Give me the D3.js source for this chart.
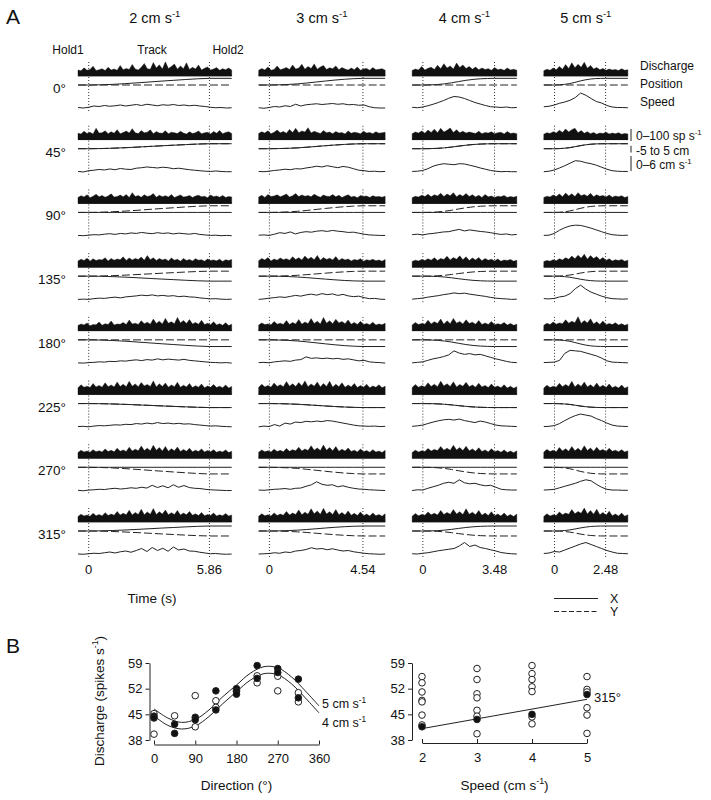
<!DOCTYPE html>
<html><head><meta charset="utf-8">
<script src="https://cdn.jsdelivr.net/npm/d3@7"></script>
<style>
body{margin:0;background:#fff;}
svg text{font-family:"Liberation Sans",Arial,Helvetica,sans-serif;fill:#111;}
</style></head><body>
<svg id="chart" width="711" height="800"></svg>
<script>
// ---------------- DATA ----------------
const speeds = [2, 3, 4, 5];                       // cm/s, columns
const trackDur = [5.86, 4.54, 3.48, 2.48];         // s
const timeTickLabels = ["5.86", "4.54", "3.48", "2.48"];
const directions = [0, 45, 90, 135, 180, 225, 270, 315];

// end position of the movement (cm) for each direction
const posEndX = [10, 7.5, 0, -7.5, -10, -6, 0, 7.5];
const posEndY = [0, 7.5, 10, 7.5, 0, -6, -10, -7.5];
// fraction of movement completed at 0,10,...,100 % of the track period (one profile per column)
const posProfile = [
  [0, 0.03, 0.10, 0.20, 0.32, 0.45, 0.58, 0.70, 0.82, 0.93, 1],
  [0, 0.03, 0.08, 0.17, 0.30, 0.45, 0.60, 0.74, 0.86, 0.95, 1],
  [0, 0.02, 0.07, 0.17, 0.33, 0.52, 0.70, 0.84, 0.93, 0.98, 1],
  [0, 0.03, 0.10, 0.22, 0.40, 0.60, 0.77, 0.89, 0.96, 0.99, 1]
];

// discharge histograms (spikes/s), rows = directions, for each speed column
const discharge2 = [
  [50,44,68,47,55,82,46,52,61,45,73,49,58,47,88,52,63,55,96,58,51,72,104,60,57,112,66,93,58,118,62,79,99,57,84,61,110,55,72,58,92,50,64,76,49,58,70,47,61,52,66,49],
  [54,48,70,52,62,47,96,55,58,74,50,66,53,84,49,60,72,55,92,57,51,76,58,63,82,50,68,56,54,75,49,62,58,51,70,55,47,66,52,59,73,50,57,62,48,69,54,77,50,60,66,52],
  [50,64,54,72,48,60,76,55,66,52,62,80,53,58,70,56,74,50,90,57,66,52,72,58,63,82,51,68,56,65,53,74,49,60,71,54,58,66,50,62,68,55,60,47,70,56,62,52,66,50,58,54],
  [52,66,56,74,50,70,55,64,60,78,52,72,58,68,62,86,56,76,60,72,64,84,58,96,62,78,55,72,60,68,52,76,58,66,50,72,56,64,52,70,58,62,50,68,56,60,53,66,48,62,55,64],
  [44,58,48,66,42,52,50,74,46,60,52,82,49,57,55,70,52,90,58,64,54,84,60,72,56,98,62,80,58,104,64,76,60,112,66,86,62,94,58,70,55,88,52,64,50,76,48,60,46,68,44,56],
  [56,82,60,70,58,92,64,76,62,98,66,80,64,104,68,86,66,110,70,88,66,100,72,84,68,114,64,90,68,96,62,80,66,102,60,78,64,92,58,74,62,88,56,72,60,84,58,70,56,80,54,68],
  [48,66,52,60,50,72,54,62,52,78,56,66,54,84,58,70,56,92,60,76,62,102,64,84,62,108,66,90,60,98,58,80,62,94,56,74,58,84,54,68,56,78,52,64,54,72,50,60,52,70,48,58],
  [46,64,50,58,48,72,52,62,50,78,54,66,56,88,58,72,60,98,58,80,62,106,60,84,64,112,62,86,66,100,60,78,62,96,58,74,60,88,56,68,54,80,52,62,54,74,50,60,52,70,50,58]
];
const discharge3 = [
  [47,62,50,76,48,55,83,52,60,71,54,92,58,66,97,56,80,62,101,57,74,88,55,69,61,84,52,70,58,49,66,53,74,48,58,63,47,70,52,56,61,48],
  [52,66,55,74,50,62,80,57,68,54,86,60,95,58,72,64,100,56,70,61,52,76,58,64,50,68,55,60,48,73,53,62,57,49,71,55,60,50,66,54,58,62],
  [54,68,50,74,58,62,72,55,66,78,53,64,82,57,70,60,66,56,76,62,52,70,60,58,74,55,68,50,62,72,54,60,48,66,57,62,50,64,55,58,52,60],
  [54,72,60,80,52,68,58,76,62,70,58,86,64,78,60,92,66,82,62,98,58,80,64,74,60,88,55,72,60,68,52,64,58,70,50,62,56,66,53,60,50,64],
  [48,66,52,58,50,78,56,64,54,86,52,70,58,94,56,74,60,102,62,80,58,112,64,84,60,96,66,78,60,90,56,70,54,80,52,62,50,72,48,58,50,64],
  [60,86,64,76,62,96,68,82,66,108,70,90,68,100,72,114,66,88,70,104,64,92,68,110,62,86,66,98,60,80,64,92,58,76,62,86,56,72,60,82,56,70],
  [50,70,54,62,52,76,56,66,54,82,58,72,62,92,60,78,64,104,68,86,64,110,66,90,62,98,58,76,60,86,56,68,52,78,54,64,50,72,52,60,48,66],
  [48,68,52,60,50,76,54,66,56,88,58,74,62,100,60,82,64,110,68,92,64,114,66,86,62,104,60,80,58,92,56,72,54,84,52,66,50,76,52,62,48,68]
];
const discharge4 = [
  [46,58,50,80,49,64,72,55,90,60,102,66,84,58,108,70,92,62,80,57,74,52,66,55,61,48,70,52,58,47,66,50,56,48],
  [50,64,56,72,54,80,60,88,58,95,64,78,98,60,82,57,70,55,64,58,52,70,49,60,55,66,50,58,62,48,68,52,56,50],
  [48,60,53,68,57,76,55,72,62,84,58,78,64,90,56,74,60,82,58,72,54,68,50,74,55,62,49,60,56,66,50,58,52,60],
  [48,58,52,64,55,70,58,78,56,72,64,90,60,80,66,94,62,86,56,76,60,80,54,72,58,66,52,68,50,60,55,64,50,58],
  [48,70,52,62,56,88,58,76,62,98,56,84,60,104,64,78,58,92,62,72,56,86,52,66,54,78,50,60,52,70,48,62,46,56],
  [58,84,62,74,64,98,68,86,66,112,72,90,68,106,64,84,70,102,66,80,62,94,64,76,58,88,60,72,56,82,54,70,52,66],
  [48,68,52,62,56,82,60,74,64,98,68,84,66,108,70,90,64,100,62,78,58,88,56,70,52,80,54,64,50,70,48,60,46,62],
  [48,70,52,62,56,84,60,72,58,96,62,80,64,104,66,86,62,110,64,82,60,96,56,74,54,86,52,66,50,74,48,62,46,66]
];
const discharge5 = [
  [44,56,48,66,52,80,57,95,62,110,68,98,72,115,64,88,58,70,52,62,47,58,50,54,46,60,48,52],
  [46,58,52,66,56,78,60,90,64,84,96,58,76,54,66,50,60,46,56,52,62,47,55,50,58,46,52,48],
  [50,60,54,70,58,78,56,86,62,80,58,90,64,74,60,84,56,72,60,66,54,70,52,62,56,64,50,58],
  [46,56,50,62,54,70,60,78,66,92,70,100,74,108,66,96,72,88,62,80,56,70,52,62,55,64,50,58],
  [46,64,52,74,56,66,60,92,64,80,68,118,62,86,66,100,58,76,54,82,50,62,52,68,48,60,46,56],
  [54,78,58,70,62,94,66,84,68,110,64,88,68,104,64,82,60,96,62,78,58,88,56,70,54,80,52,66],
  [52,74,56,66,54,90,60,80,58,98,62,84,60,104,64,86,58,92,62,74,56,84,58,68,54,72,52,62],
  [46,68,50,60,54,84,60,74,64,104,68,88,72,116,66,96,64,106,60,80,56,90,52,66,50,74,48,60]
];
const dischargeByCol = [discharge2, discharge3, discharge4, discharge5];

// hand speed traces (cm/s), evenly sampled over each panel
const speed2 = [
  [0.6,0.4,0.7,1.2,1.0,1.4,1.1,1.3,1.6,1.2,1.5,1.8,1.4,1.9,1.6,1.3,1.7,1.5,1.8,1.4,1.6,1.3,1.5,1.2,1.0,0.7,0.5,0.6,0.4,0.5],
  [0.5,0.3,0.8,1.0,1.3,1.1,1.5,1.2,1.7,1.4,1.3,1.8,2.0,2.3,2.1,1.9,2.2,2.0,1.6,1.8,1.5,1.2,1.0,0.8,0.6,0.5,0.7,0.5,0.4,0.4],
  [0.4,0.3,0.5,0.7,0.6,0.9,1.1,0.8,1.2,1.0,1.4,1.2,1.6,1.3,1.1,1.5,1.2,1.4,1.0,1.3,1.1,0.9,1.2,0.8,0.6,0.4,0.5,0.3,0.4,0.3],
  [0.3,0.4,0.3,0.6,0.8,0.7,1.0,1.2,0.9,1.3,1.5,1.7,2.0,1.8,2.1,1.7,1.9,1.6,1.8,1.4,1.6,1.3,1.2,0.9,0.7,0.5,0.6,0.4,0.3,0.4],
  [0.4,0.3,0.5,0.6,0.8,0.7,1.0,0.9,1.2,1.1,1.4,1.6,1.3,1.7,1.5,2.0,1.6,1.9,1.7,1.5,1.8,1.4,1.2,1.0,0.8,0.6,0.5,0.4,0.5,0.3],
  [0.4,0.5,0.3,0.6,0.8,0.7,0.9,1.1,1.0,1.3,1.2,1.6,1.4,1.8,1.5,2.0,1.6,1.8,1.5,1.7,1.4,1.5,1.2,1.0,0.8,0.6,0.7,0.5,0.4,0.3],
  [0.4,0.2,0.5,0.6,0.8,0.7,1.0,1.2,0.9,1.1,1.4,1.2,1.6,1.3,2.4,1.5,2.2,1.4,2.6,1.6,2.3,1.5,1.2,1.1,0.8,0.6,0.5,0.4,0.3,0.3],
  [0.4,0.3,0.5,0.7,0.6,0.9,1.2,0.8,1.3,1.6,1.1,1.8,2.6,1.4,3.0,1.8,2.7,1.5,3.2,2.0,2.4,1.6,1.5,1.1,0.8,0.5,0.6,0.4,0.3,0.4]
];
const speed3 = [
  [0.5,0.3,0.6,1.0,0.8,1.3,1.0,1.9,1.2,1.7,1.9,2.1,1.8,2.0,2.2,1.9,2.1,1.7,1.8,1.5,1.6,0.9,0.5,0.4,0.4],
  [0.5,0.4,0.6,0.9,1.1,1.4,1.2,1.6,1.5,1.9,2.2,2.6,2.3,2.8,2.4,2.0,2.5,2.2,1.6,1.0,0.8,0.5,0.6,0.4,0.5],
  [0.5,0.6,0.4,0.9,1.5,1.2,1.8,1.0,1.6,1.9,1.7,2.1,2.3,2.0,2.4,2.1,1.9,1.6,1.7,1.3,0.9,0.6,0.5,0.4,0.4],
  [0.3,0.5,0.8,1.0,1.3,1.1,1.5,1.9,1.6,2.1,2.4,2.0,2.6,2.2,2.5,1.9,2.3,1.7,1.4,1.6,1.0,0.6,0.7,0.4,0.3],
  [0.5,0.6,0.4,0.8,1.0,1.2,1.0,1.5,1.7,2.8,2.2,2.4,2.1,2.3,2.0,2.2,1.8,2.0,1.6,1.2,1.4,0.8,0.6,0.5,0.3],
  [0.3,0.6,0.4,1.2,0.6,1.8,1.4,2.2,2.0,2.5,2.3,2.6,2.4,2.8,2.6,2.2,1.8,1.4,1.0,0.7,0.6,0.5,0.6,0.4,0.5],
  [0.5,0.4,0.6,0.8,0.9,1.1,0.8,1.2,1.3,2.0,2.6,3.8,2.8,2.4,2.6,1.8,2.2,1.6,1.2,0.9,0.8,0.6,0.5,0.4,0.3],
  [0.4,0.5,0.6,0.9,0.7,1.2,1.0,1.6,1.8,2.2,2.9,2.4,2.6,2.1,2.5,2.0,1.6,1.8,1.3,1.0,0.7,0.5,0.4,0.3,0.4]
];
const speed4 = [
  [0.7,0.5,0.8,1.3,1.9,2.6,3.4,4.3,5.0,4.8,4.2,3.4,2.6,2.0,1.4,0.9,0.8,0.6,0.8,0.5,0.6],
  [0.5,0.6,0.9,1.6,2.6,3.2,3.6,3.4,3.2,3.6,3.5,3.0,2.5,1.9,1.4,0.9,0.6,0.4,0.5,0.4,0.4],
  [0.7,0.9,0.6,1.0,1.2,1.5,1.8,1.9,2.4,2.8,2.2,2.6,2.3,2.0,1.8,1.5,1.1,0.8,1.0,0.6,0.8],
  [0.4,0.6,0.8,1.2,1.5,1.8,2.2,2.5,2.9,2.6,2.8,2.4,2.1,1.8,1.5,1.1,0.8,0.6,0.5,0.3,0.4],
  [0.4,0.6,0.8,1.4,2.0,2.4,2.9,3.6,5.2,4.3,3.8,4.1,3.6,3.8,3.2,2.6,2.0,1.5,1.0,0.6,0.5],
  [0.5,0.7,1.0,1.6,2.2,2.7,3.1,3.3,3.0,3.4,2.8,2.4,2.0,2.6,2.2,1.6,1.0,0.7,0.6,0.5,0.4],
  [0.3,0.6,0.5,1.2,1.8,2.4,3.2,3.6,3.2,4.6,3.4,3.0,3.2,2.6,2.2,2.4,1.6,0.8,0.6,0.5,0.5],
  [0.5,0.4,0.7,0.9,1.3,1.7,2.0,2.3,2.6,3.6,5.0,3.4,4.0,3.0,2.6,2.1,1.6,1.0,0.7,0.5,0.4]
];
const speed5 = [
  [0.9,1.1,1.6,2.3,2.8,3.5,4.6,6.4,5.5,4.2,3.0,2.4,1.4,0.8,0.6,0.6,0.5],
  [0.4,0.6,1.1,1.9,2.8,3.8,4.8,4.6,4.0,3.6,3.0,2.2,1.4,0.8,0.6,0.5,0.5],
  [0.4,0.5,1.2,2.5,3.5,4.2,4.5,4.4,3.9,3.3,2.6,1.9,1.2,0.7,0.5,0.4,0.5],
  [0.6,0.5,0.7,1.3,1.6,2.6,4.6,6.0,4.4,3.2,2.4,1.6,1.0,0.6,0.5,0.4,0.5],
  [0.5,0.6,0.7,1.4,4.2,5.4,5.2,5.0,4.4,3.8,3.2,2.3,1.2,0.7,0.6,0.5,0.4],
  [0.4,0.5,0.8,1.6,2.8,3.9,4.8,5.4,5.0,4.6,3.6,2.8,1.8,1.0,0.6,0.5,0.4],
  [0.5,0.6,0.8,1.4,2.0,2.6,3.2,4.0,4.6,4.2,2.8,1.6,0.8,0.5,0.5,0.4,0.4],
  [0.6,0.8,1.4,1.2,2.0,2.8,3.6,4.4,5.0,4.2,3.4,2.6,1.8,1.2,0.7,0.6,0.5]
];
const speedByCol = [speed2, speed3, speed4, speed5];

// Panel B left: discharge vs direction
const dirFilled = [[0,44.5],[0,44.0],[45,42.3],[45,39.8],[90,44.2],[90,43.5],[135,51.4],[135,46.2],[180,52.0],[180,51.2],[180,50.5],[225,58.3],[225,54.8],[270,57.5],[270,56.4],[315,54.6],[315,49.5]];
const dirOpen = [[0,45.2],[0,39.6],[45,44.6],[90,50.1],[90,41.6],[135,48.7],[135,46.9],[180,51.6],[225,55.5],[225,53.6],[270,55.4],[270,51.4],[315,50.9],[315,48.4]];
const fitDirections = [0,30,60,90,120,150,180,210,240,270,300,330,360];
const fit5 = [46.5,44.0,42.8,43.6,46.2,49.8,53.0,56.2,58.0,57.7,55.2,51.4,47.3];
const fit4 = [44.6,42.0,41.0,41.8,44.4,47.9,51.2,54.3,56.1,55.8,53.3,49.5,45.4];
const dirTicks = [0, 90, 180, 270, 360];
const dischargeTicks = [38, 45, 52, 59];

// Panel B right: discharge vs speed
const spdOpen = [[2,55.3],[2,53.6],[2,51.1],[2,48.8],[2,48.4],[2,44.8],[2,42.1],[3,57.5],[3,54.5],[3,50.6],[3,49.5],[3,46.1],[3,44.5],[3,39.7],[4,58.3],[4,56.1],[4,54.5],[4,52.5],[4,51.2],[4,44.3],[4,42.4],[5,55.3],[5,51.8],[5,51.1],[5,46.8],[5,44.8],[5,39.8]];
const spdFilled = [[2,41.6],[3,43.6],[4,45.0],[5,50.4]];
const spdFit = [[2,41.1],[5,49.1]];
const speedTicks = [2, 3, 4, 5];

// ---------------- LAYOUT ----------------
const PX_PER_S = 20.6, PRE = 0.52, POST = 1.08, COL_X0 = 78, COL_GAP = 27;
const ROW_FIRST = 85, ROW_LAST = 531;
const INK = "#222";

const svg = d3.select("#chart");

function richText(sel, x, y, parts, size, anchor, extra) {
  const t = sel.append("text").attr("x", x).attr("y", y)
    .attr("font-size", size).attr("text-anchor", anchor || "start");
  let shifted = 0;
  parts.forEach(p => {
    if (typeof p === "string") {
      const ts = t.append("tspan").text(p);
      if (shifted) { ts.attr("dy", -shifted); shifted = 0; }
    } else {
      const up = size * 0.42;
      t.append("tspan").attr("font-size", size * 0.66).attr("dy", -up).text(p.sup);
      shifted = -up;
    }
  });
  if (extra) extra(t);
  return t;
}

const rowY = d3.scalePoint().domain(directions).range([ROW_FIRST, ROW_LAST]);
const dScale = d3.scaleLinear().domain([0, 100]).range([0, -12]);   // relative to discharge base
const pScale = d3.scaleLinear().domain([-5, 5]).range([3.33, -3.33]); // relative to position zero
const sScale = d3.scaleLinear().domain([0, 6]).range([24, 9]);       // relative to row line

// Columns
let acc = COL_X0;
const colScales = trackDur.map(T => {
  const w = (T + PRE + POST) * PX_PER_S;
  const s = d3.scaleLinear().domain([-PRE, T + POST]).range([acc, acc + w]);
  acc += w + COL_GAP;
  return s;
});

// Panel letter A and column headers
svg.append("text").attr("x", 6).attr("y", 24).attr("font-size", 21).text("A");
speeds.forEach((sp, c) => {
  const xs = colScales[c];
  const cx = (xs.range()[0] + xs.range()[1]) / 2;
  richText(svg, cx, 23, [sp + " cm s", {sup: "-1"}], 14.5, "middle");
});

// Epoch labels above first column
{
  const xs = colScales[0], T = trackDur[0];
  svg.append("text").attr("x", xs(0) - 5).attr("y", 54).attr("font-size", 12).attr("text-anchor", "end").text("Hold1");
  svg.append("text").attr("x", xs(T / 2) + 3).attr("y", 54).attr("font-size", 12).attr("text-anchor", "middle").text("Track");
  svg.append("text").attr("x", xs(T) + 3).attr("y", 54).attr("font-size", 12).text("Hold2");
}

// Panels
directions.forEach((dir, r) => {
  const y0 = rowY(dir);
  svg.append("text").attr("x", 66).attr("y", y0 + 8).attr("font-size", 13.5)
    .attr("text-anchor", "end").text(dir + "°");

  speeds.forEach((sp, c) => {
    const xs = colScales[c], T = trackDur[c];
    const g = svg.append("g");

    // dotted epoch markers
    [0, T].forEach(t => {
      g.append("line").attr("x1", xs(t)).attr("x2", xs(t))
        .attr("y1", y0 - 23).attr("y2", y0 + 26)
        .attr("stroke", "#333").attr("stroke-width", 1).attr("stroke-dasharray", "1,2");
    });

    // discharge histogram
    const dvals = dischargeByCol[c][r];
    const di = d3.scaleLinear().domain([0, dvals.length - 1]).range(xs.range());
    const base = y0 - 9;
    g.append("path").datum(dvals)
      .attr("d", d3.area().x((d, i) => di(i)).y0(base).y1(d => base + dScale(d)))
      .attr("fill", "#111").attr("stroke", "#111").attr("stroke-width", 0.4);
    g.append("line").attr("x1", xs.range()[0]).attr("x2", xs.range()[1])
      .attr("y1", base - 0.5).attr("y2", base - 0.5).attr("stroke", "#111").attr("stroke-width", 1.5);

    // position traces
    const prof = posProfile[c];
    const pts = [[-PRE, 0]].concat(prof.map((f, k) => [k / (prof.length - 1) * T, f]), [[T + POST, 1]]);
    const posLine = end => d3.line().x(d => xs(d[0])).y(d => y0 + pScale(d[1] * end));
    g.append("path").datum(pts).attr("d", posLine(posEndY[r]))
      .attr("fill", "none").attr("stroke", INK).attr("stroke-width", 1).attr("stroke-dasharray", "8,3");
    g.append("path").datum(pts).attr("d", posLine(posEndX[r]))
      .attr("fill", "none").attr("stroke", INK).attr("stroke-width", 1);

    // speed trace
    const svals = speedByCol[c][r];
    const si = d3.scaleLinear().domain([0, svals.length - 1]).range(xs.range());
    g.append("path").datum(svals)
      .attr("d", d3.line().x((d, i) => si(i)).y(d => y0 + sScale(d)))
      .attr("fill", "none").attr("stroke", INK).attr("stroke-width", 1);
  });
});

// Right-side labels
svg.append("text").attr("x", 640).attr("y", 70).attr("font-size", 12).text("Discharge");
svg.append("text").attr("x", 640).attr("y", 88).attr("font-size", 12).text("Position");
svg.append("text").attr("x", 640).attr("y", 106).attr("font-size", 12).text("Speed");

// Scale bars
{
  const bx = 631;
  const b1 = 141, b2 = 152.5, b3 = 171;
  svg.append("line").attr("x1", bx).attr("x2", bx).attr("y1", b1).attr("y2", b1 + dScale(100)).attr("stroke", INK);
  svg.append("line").attr("x1", bx).attr("x2", bx).attr("y1", b2).attr("y2", b2 - (pScale(-5) - pScale(5))).attr("stroke", INK);
  svg.append("line").attr("x1", bx).attr("x2", bx).attr("y1", b3).attr("y2", b3 - (sScale(0) - sScale(6))).attr("stroke", INK);
  richText(svg, 636, 140, ["0–100 sp s", {sup: "-1"}], 12, "start");
  svg.append("text").attr("x", 636).attr("y", 155).attr("font-size", 12).text("-5 to 5 cm");
  richText(svg, 636, 169, ["0–6 cm s", {sup: "-1"}], 12, "start");
}

// Time tick labels
speeds.forEach((sp, c) => {
  const xs = colScales[c];
  svg.append("text").attr("x", xs(0)).attr("y", 574).attr("font-size", 13).attr("text-anchor", "middle").text("0");
  svg.append("text").attr("x", xs(trackDur[c])).attr("y", 574).attr("font-size", 13).attr("text-anchor", "middle").text(timeTickLabels[c]);
});
svg.append("text").attr("x", 152).attr("y", 603).attr("font-size", 13.5).attr("text-anchor", "middle").text("Time (s)");

// X / Y legend
svg.append("line").attr("x1", 554).attr("x2", 598).attr("y1", 598.5).attr("y2", 598.5).attr("stroke", INK);
svg.append("line").attr("x1", 554).attr("x2", 598).attr("y1", 611.5).attr("y2", 611.5).attr("stroke", INK).attr("stroke-dasharray", "5,2.5");
svg.append("text").attr("x", 610).attr("y", 603).attr("font-size", 12.5).text("X");
svg.append("text").attr("x", 610).attr("y", 616).attr("font-size", 12.5).text("Y");

// ---------------- PANEL B ----------------
svg.append("text").attr("x", 6).attr("y", 653).attr("font-size", 21).text("B");

const yB = d3.scaleLinear().domain([38, 59]).range([740, 663]);
const xDir = d3.scaleLinear().domain([0, 360]).range([154, 319]);
const xSpd = d3.scaleLinear().domain([2, 5]).range([422, 587]);

function styleAxis(g) {
  g.selectAll("path,line").attr("stroke", INK).attr("stroke-width", 1);
  g.selectAll("text").attr("font-size", 13).attr("fill", "#111")
    .attr("font-family", '"Liberation Sans",Arial,sans-serif');
}

// left plot axes
svg.append("g").attr("transform", "translate(149.5,0)")
  .call(d3.axisLeft(yB).tickValues(dischargeTicks).tickSize(4).tickSizeOuter(0).tickPadding(3))
  .call(styleAxis);
svg.append("g").attr("transform", "translate(0,744.5)")
  .call(d3.axisBottom(xDir).tickValues(dirTicks).tickSize(-4).tickSizeOuter(0).tickPadding(9))
  .call(styleAxis);

// y title
richText(svg, 0, 0, ["Discharge (spikes s", {sup: "-1"}, ")"], 13.5, "middle",
  t => t.attr("transform", "translate(104,701) rotate(-90)"));
svg.append("text").attr("x", xDir(180)).attr("y", 790).attr("font-size", 13.5).attr("text-anchor", "middle").text("Direction (°)");

// fitted curves
const fitLine = d3.line().x((d, i) => xDir(fitDirections[i])).y(d => yB(d)).curve(d3.curveCatmullRom);
[fit5, fit4].forEach(f => {
  svg.append("path").datum(f).attr("d", fitLine).attr("fill", "none").attr("stroke", INK).attr("stroke-width", 1);
});
richText(svg, 322, 708, ["5 cm s", {sup: "-1"}], 12.5, "start");
richText(svg, 322, 727, ["4 cm s", {sup: "-1"}], 12.5, "start");

svg.append("g").selectAll("circle").data(dirOpen).join("circle")
  .attr("cx", d => xDir(d[0])).attr("cy", d => yB(d[1])).attr("r", 3.3)
  .attr("fill", "#fff").attr("stroke", INK).attr("stroke-width", 1);
svg.append("g").selectAll("circle").data(dirFilled).join("circle")
  .attr("cx", d => xDir(d[0])).attr("cy", d => yB(d[1])).attr("r", 3.3)
  .attr("fill", "#111").attr("stroke", INK).attr("stroke-width", 1);

// right plot axes
svg.append("g").attr("transform", "translate(412,0)")
  .call(d3.axisLeft(yB).tickValues(dischargeTicks).tickSize(4).tickSizeOuter(0).tickPadding(3))
  .call(styleAxis);
svg.append("g").attr("transform", "translate(0,743)")
  .call(d3.axisBottom(xSpd).tickValues(speedTicks).tickFormat(d3.format("d")).tickSize(-4).tickSizeOuter(0).tickPadding(10))
  .call(styleAxis);
richText(svg, xSpd(3.5), 790, ["Speed (cm s", {sup: "-1"}, ")"], 13.5, "middle");

svg.append("path").datum(spdFit)
  .attr("d", d3.line().x(d => xSpd(d[0])).y(d => yB(d[1])))
  .attr("stroke", INK).attr("stroke-width", 1).attr("fill", "none");
svg.append("g").selectAll("circle").data(spdOpen).join("circle")
  .attr("cx", d => xSpd(d[0])).attr("cy", d => yB(d[1])).attr("r", 3.3)
  .attr("fill", "#fff").attr("stroke", INK).attr("stroke-width", 1);
svg.append("g").selectAll("circle").data(spdFilled).join("circle")
  .attr("cx", d => xSpd(d[0])).attr("cy", d => yB(d[1])).attr("r", 3.3)
  .attr("fill", "#111").attr("stroke", INK).attr("stroke-width", 1);
svg.append("text").attr("x", 594).attr("y", 702).attr("font-size", 13).text("315°");
</script></body></html>
